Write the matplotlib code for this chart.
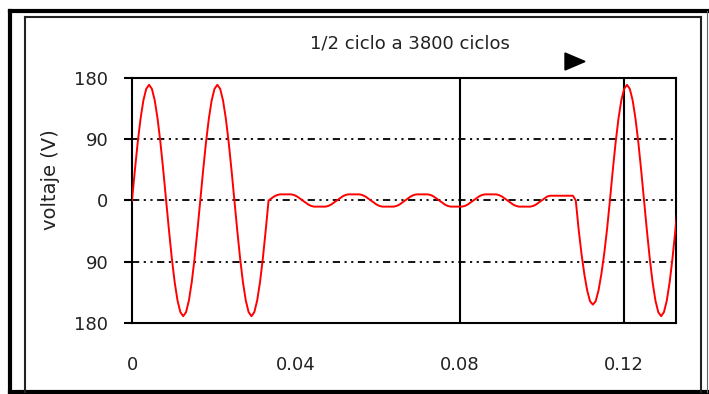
import numpy as np
import matplotlib
matplotlib.use("Agg")
import matplotlib.pyplot as plt
from matplotlib.lines import Line2D
from matplotlib.patches import Polygon

# ----------------------------------------------------------------------
# waveform samples (24 samples per 60 Hz cycle)
# ----------------------------------------------------------------------
samples_per_cycle = 24
freq = 60.0

full_cycle = [0, 44, 85, 120, 147, 164, 170, 164, 147, 120, 85, 44,
              0, -44, -85, -120, -147, -164, -170, -164, -147, -120, -85, -44]
sag_cycle = [0, 3, 6, 8, 9, 9, 9, 9, 9, 8, 6, 3,
             0, -3, -6, -8, -9, -9, -9, -9, -9, -8, -6, -3]
sag_last_half = [0, 3, 6, 7, 7, 7, 7, 7, 7, 7, 7, 7]
recovery_half = [0, -42, -78, -108, -132, -148, -153, -148, -132, -108, -78, -42]

voltage = (full_cycle * 2 + sag_cycle * 4 + sag_last_half + recovery_half
           + full_cycle + [0])
time = np.arange(len(voltage)) / (freq * samples_per_cycle)

y_ticks = [-180, -90, 0, 90, 180]
y_labels = ["180", "90", "0", "90", "180"]
x_ticks = [0, 0.04, 0.08, 0.12]
x_labels = ["0", "0.04", "0.08", "0.12"]
x_marks = [0, 0.08, 0.12]
v_lines = [0.08, 0.12]
h_grid = [90, 0, -90]

W, H = 709, 394
fig = plt.figure(figsize=(W / 100, H / 100), dpi=100)
ax = fig.add_axes([132 / W, 1 - 323 / H, 544 / W, 245 / H])

for g in h_grid:
    ax.axhline(g, color="black", lw=1.3, linestyle=(0, (4, 2.5, 1.2, 2.5, 1.2, 2.5)), zorder=1)
for v in v_lines:
    ax.axvline(v, color="black", lw=1.5, zorder=1)

ax.plot(time, voltage, color="red", lw=1.4, zorder=3)

ax.set_xlim(0, 0.1328)
ax.set_ylim(-180, 180)

ax.set_yticks(y_ticks)
ax.set_yticklabels(y_labels)
ax.tick_params(axis="y", direction="out", length=6, width=1.5, pad=11,
               labelsize=13, labelcolor="#222222")

ax.set_xticks(x_ticks)
ax.set_xticklabels(x_labels)
ax.set_xticks(x_marks, minor=True)
ax.tick_params(axis="x", which="major", length=0, pad=24, labelsize=13,
               labelcolor="#222222")
ax.tick_params(axis="x", which="minor", direction="out", length=6, width=1.5)

for sp in ax.spines.values():
    sp.set_linewidth(1.5)

fig.text(51 / W, 1 - 180 / H, "voltaje (V)", rotation=90, fontsize=14,
         ha="center", va="center", color="#222222")
fig.text(410 / W, 1 - 43 / H, "1/2 ciclo a 3800 ciclos", fontsize=13,
         ha="center", va="center", color="#222222")

# arrow head above the plot
tri = [(565 / W, 1 - 53 / H), (565 / W, 1 - 70 / H), (585 / W, 1 - 61.5 / H)]
fig.add_artist(Polygon(tri, closed=True, color="black", transform=fig.transFigure))


# double frame round the figure
def edge(x0, y0, x1, y1, lw, color):
    fig.add_artist(Line2D([x0 / W, x1 / W], [1 - y0 / H, 1 - y1 / H], lw=lw,
                          color=color, transform=fig.transFigure,
                          solid_capstyle="projecting"))


# outer frame: heavy left, top and bottom, light right side
edge(10, 11, 707, 11, 3.0, "black")
edge(10, 11, 10, 392, 3.0, "black")
edge(10, 392, 707, 392, 3.0, "black")
edge(707, 11, 707, 392, 0.8, "#666666")

# inner frame
edge(25, 16.5, 701, 16.5, 1.5, "#222222")
edge(25, 16.5, 25, 392, 1.5, "#222222")
edge(701, 16.5, 701, 392, 1.5, "#222222")

fig.savefig("out.png", dpi=100)
